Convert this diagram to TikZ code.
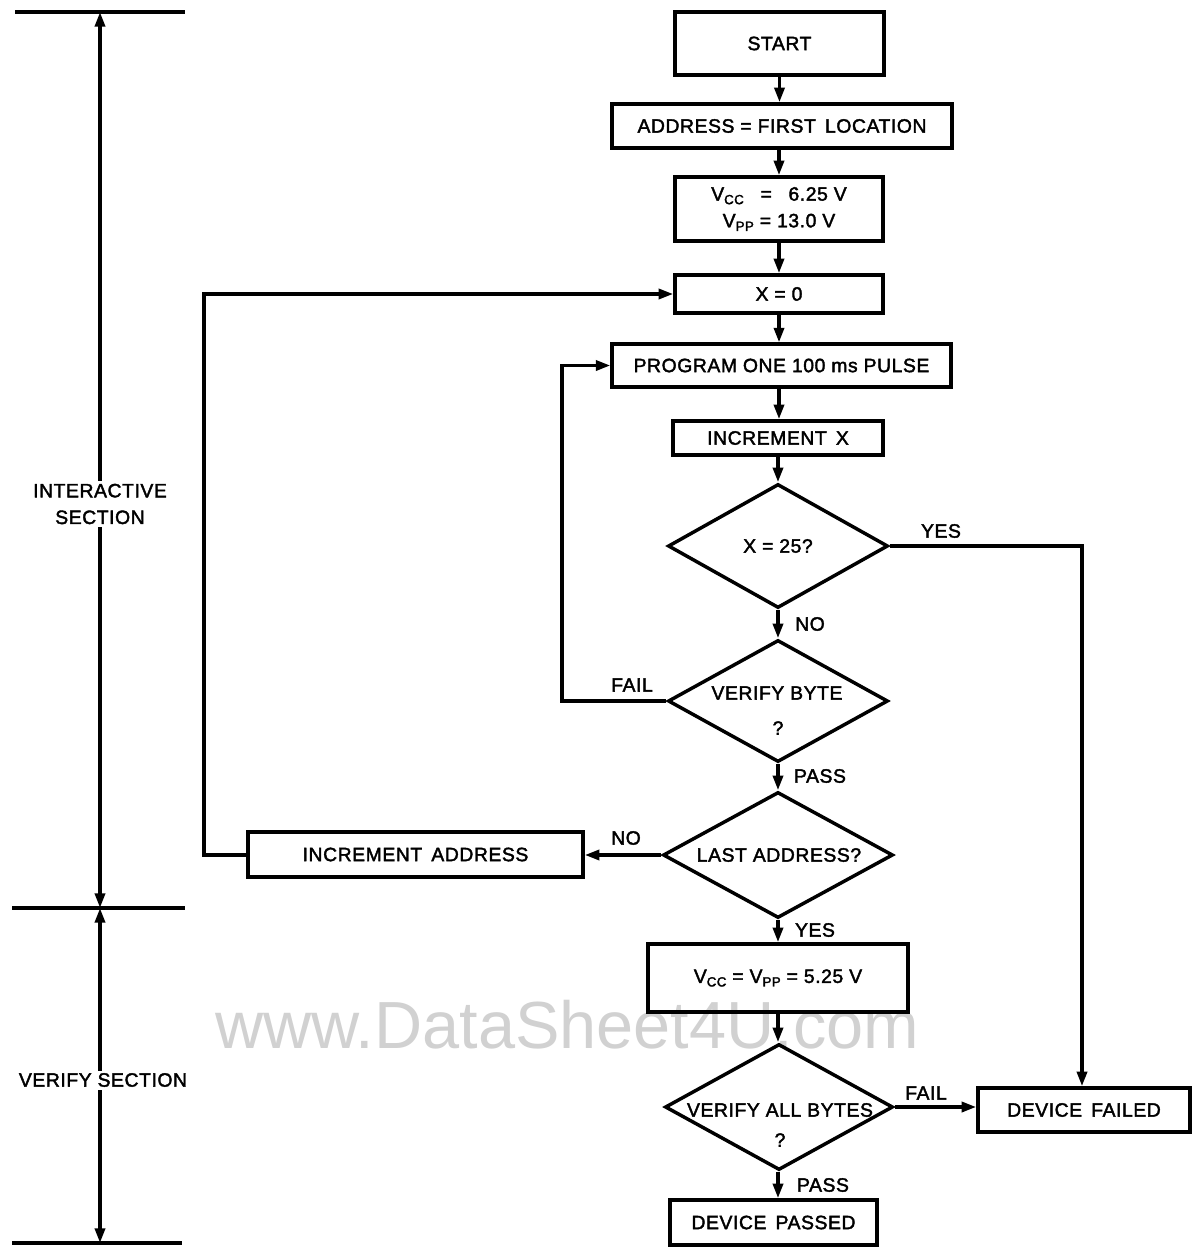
\documentclass[tikz,border=0pt]{standalone}
\usepackage{fontspec}
\setmainfont{Liberation Sans}[LetterSpace=3,FakeBold=2]
\usetikzlibrary{shapes.geometric,arrows.meta}
\newcommand{\sub}[1]{\raisebox{-0.35ex}{\fontsize{10pt}{10pt}\selectfont #1}}
\begin{document}
\begin{tikzpicture}[x=0.75pt,y=-0.75pt,
  every node/.style={font=\fontsize{14.5pt}{18pt}\selectfont},
  box/.style={draw,line width=2.6pt,rectangle,inner sep=0pt},
  dia/.style={draw,line width=2.6pt,diamond,inner sep=0pt},
  lbl/.style={inner sep=1pt},
  conn/.style={line width=2.6pt,-{Triangle[length=11pt,width=7.5pt]}},
  line/.style={line width=2.8pt},
  dim/.style={line width=2.6pt,{Triangle[length=11pt,width=7.5pt]}-{Triangle[length=11pt,width=7.5pt]}}
]
\useasboundingbox (0,0) rectangle (1191,1248);
% watermark
\node[text=black!18,font=\fontspec{Liberation Sans}\fontsize{50pt}{50pt}\selectfont] (wm) at (567,1025) {www.DataSheet4U.com};
% left dimension section
\coordinate (t1) at (15,12); \coordinate (t2) at (185,12);
\coordinate (m1) at (12,908); \coordinate (m2) at (185,908);
\coordinate (b1) at (12,1243); \coordinate (b2) at (182,1243);
\coordinate (vt) at (100,12); \coordinate (vm) at (100,908); \coordinate (vb) at (100,1243);
\draw[line] (t1) -- (t2);
\draw[line] (m1) -- (m2);
\draw[line] (b1) -- (b2);
\draw[dim] (vt) -- (vm);
\draw[dim] (vm) -- (vb);
\node[fill=white,align=center,inner sep=2pt,font=\fontsize{14.5pt}{20pt}\selectfont] (lab1) at (100,504) {INTERACTIVE\\SECTION};
\node[fill=white,inner sep=2pt] (lab2) at (103,1080) {VERIFY SECTION};
% boxes
\node[box,minimum width=156.75pt,minimum height=47.25pt] (start) at (779.5,43.5) {START};
\node[box,minimum width=255pt,minimum height=33pt] (addr) at (782,126) {ADDRESS = FIRST\, LOCATION};
\node[box,minimum width=156pt,minimum height=48pt,align=center,font=\fontsize{14.5pt}{20pt}\selectfont] (vcc) at (779,209) {V\sub{CC}\;\; =\;\; 6.25 V\\V\sub{PP} = 13.0 V};
\node[box,minimum width=156pt,minimum height=28.5pt] (x0) at (779,294) {X = 0};
\node[box,minimum width=254pt,minimum height=32pt] (prog) at (781.5,365.5) {PROGRAM ONE 100 ms PULSE};
\node[box,minimum width=157.5pt,minimum height=25.5pt] (incx) at (778,438) {INCREMENT\, X};
\node[dia,minimum width=165pt,minimum height=93pt] (d25) at (778,546) {};
\node[lbl] (d25t) at (d25) {X = 25?};
\node[dia,minimum width=165pt,minimum height=91.5pt] (dvb) at (778,701) {};
\node[lbl] (dvbt) at (777,693) {VERIFY BYTE};
\node[lbl] (dvbq) at (778,728) {?};
\node[dia,minimum width=172.5pt,minimum height=94.5pt] (dla) at (778,855) {};
\node[lbl] (dlat) at (779,855) {LAST ADDRESS?};
\node[box,minimum width=251.25pt,minimum height=33.75pt] (inca) at (415.5,854.5) {INCREMENT\, ADDRESS};
\node[box,minimum width=195pt,minimum height=51pt] (vpp) at (778,978) {V\sub{CC} = V\sub{PP} = 5.25 V};
\node[dia,minimum width=171pt,minimum height=94.5pt] (dva) at (779,1107) {};
\node[lbl] (dvat) at (780,1110) {VERIFY ALL BYTES};
\node[lbl] (dvaq) at (780,1140) {?};
\node[box,minimum width=159pt,minimum height=33pt] (fail) at (1084,1110) {DEVICE\, FAILED};
\node[box,minimum width=155.25pt,minimum height=33.75pt] (pass) at (773.5,1222.5) {DEVICE\, PASSED};
% connectors
\draw[conn] (start) -- (start |- addr.north);
\draw[conn] (addr.south -| vcc) -- (vcc);
\draw[conn] (vcc) -- (x0);
\draw[conn] (779,0 |- x0.south) -- (779,0 |- prog.north);
\draw[conn] (779,0 |- prog.south) -- (779,0 |- incx.north);
\draw[conn] (778,0 |- incx.south) -- (d25.north);
\draw[conn] (d25.south) -- (dvb.north);
\draw[conn] (dvb.south) -- (dla.north);
\draw[conn] (dla.south) -- (778,0 |- vpp.north);
\draw[conn] (778,0 |- vpp.south) -- (dva.north -| 778,0);
\draw[conn] (dva.south -| 778,0) -- (778,0 |- pass.north);
\draw[conn] (dva.east) -- (fail.west |- dva.east);
\coordinate (yc) at (1082,546);
\draw[conn] (d25.east) -- (yc) -- (1082,0 |- fail.north);
\coordinate (fc) at (562,701);
\draw[conn] (dvb.west) -- (fc) -- (562,0 |- prog.west) -- (prog.west);
\draw[conn] (dla.west) -- (inca.east |- dla.west);
\coordinate (ic) at (204,855);
\draw[conn] (inca.west |- ic) -- (ic) -- (204,0 |- x0.west) -- (x0.west);
% labels
\node[lbl] (lyes1) at (941,531) {YES};
\node[lbl] (lno1) at (810,624) {NO};
\node[lbl] (lfail1) at (632,685) {FAIL};
\node[lbl] (lpass1) at (820,776) {PASS};
\node[lbl] (lno2) at (626,838) {NO};
\node[lbl] (lyes2) at (815,930) {YES};
\node[lbl] (lfail2) at (926,1093) {FAIL};
\node[lbl] (lpass2) at (823,1185) {PASS};
\end{tikzpicture}
\end{document}
